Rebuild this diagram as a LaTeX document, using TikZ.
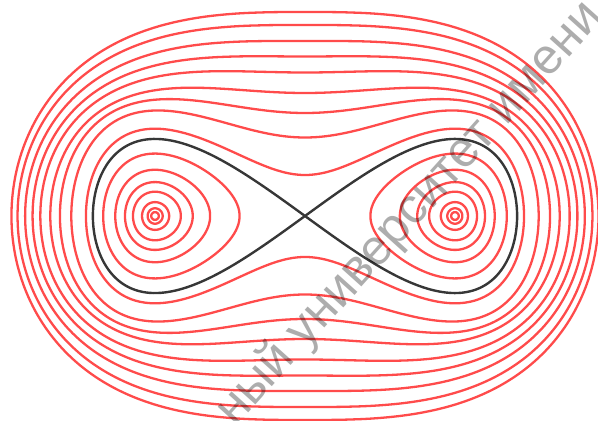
\documentclass[tikz,border=0pt]{standalone}
\usepackage{fontspec}
\newfontfamily\wmfont{Liberation Sans}
\definecolor{curvered}{RGB}{255,75,75}
\definecolor{sepblack}{RGB}{55,55,55}
\newcommand\supexp{2.6}
\begin{document}
\begin{tikzpicture}[x=75pt,y=54.5pt,
  declare function={
    duffy(\t,\X)=sin(\t)*sqrt((\X*\X*\X*\X*(1+cos(\t)*cos(\t))-2*\X*\X)/2);
    ovly(\t,\Y)=\Y*sin(\t)/abs(sin(\t))*sqrt(1-abs(cos(\t))^\supexp);
    blendy(\t,\X,\Y,\lm)=(1-\lm)*duffy(\t,\X)+\lm*ovly(\t,\Y);
  },
  level/.style={draw=curvered,line width=1.15pt,line join=round},
  separatrix/.style={draw=sepblack,line width=1.2pt,line join=round},
  watermark/.style={text=black,opacity=0.32,font=\wmfont\fontsize{25}{25}\selectfont,rotate=48}]
\useasboundingbox (-2.0333,-1.8807) rectangle (1.9533,1.9817);
\clip (-2.0333,-1.8807) rectangle (1.9533,1.9817);
% level curves inside the two wells
\foreach \r in {0.05,0.1,0.18,0.315,0.44,0.6,0.81}{
  \draw[level] plot[domain=0:360,samples=120,smooth] ({sqrt(1+\r*cos(\x))},{\r/sqrt(2)*sin(\x)}) -- cycle;
  \draw[level] plot[domain=0:360,samples=120,smooth] ({-sqrt(1+\r*cos(\x))},{\r/sqrt(2)*sin(\x)}) -- cycle;
}
% level curves outside the separatrix
\foreach \yz/\lam in {41/0,78.5/0.1,103/0.3,123/0.5,143.5/0.65,159.5/0.75,175/0.82,191/0.87,204/0.9}{
  \pgfmathsetmacro\LL{2*(\yz/109)*(\yz/109)}
  \pgfmathsetmacro\XX{sqrt(1+sqrt(1+\LL))}
  \pgfmathsetmacro\YY{\yz/109}
  \draw[level] plot[domain=1:361,samples=181,smooth] ({\XX*cos(\x)},{blendy(\x,\XX,\YY,\lam)}) -- cycle;
}
% separatrix
\draw[separatrix] plot[domain=0:360,samples=240,smooth] ({sqrt(2)*cos(\x)},{sqrt(2)*sin(\x)*cos(\x)}) -- cycle;
% watermark
\node[watermark] (wm) at (0.70,0.02) {ный университет имени};
\end{tikzpicture}
\end{document}
